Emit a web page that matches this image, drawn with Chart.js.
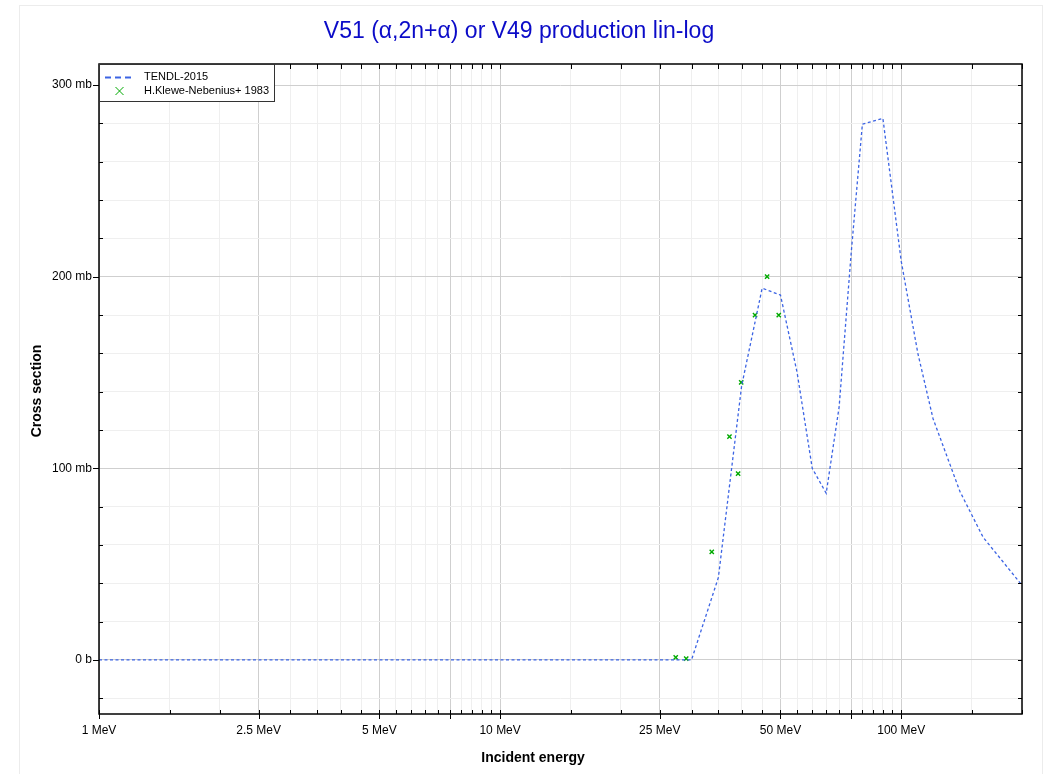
<!DOCTYPE html>
<html>
<head>
<meta charset="utf-8">
<title>V51 (α,2n+α) or V49 production lin-log</title>
<script src="https://cdn.jsdelivr.net/npm/chart.js@4.4.1/dist/chart.umd.min.js"></script>
<style>
  html, body { margin: 0; padding: 0; background: #fff; }
  canvas { display: block; }
</style>
</head>
<body>
<canvas id="chart" width="1053" height="774"></canvas>
<script>
/* ----------------------------------------------------------
   Data (energy in MeV, xs in mb)
   ---------------------------------------------------------- */
const tendlEnergy = [1, 10, 20, 28.5, 30, 35, 40, 45, 50, 55, 60, 65, 70, 75, 80, 90, 100, 110, 120, 140, 160, 200];
const tendlXs     = [0, 0, 0, 0, 0, 43, 143, 194, 190.4, 150, 100, 87, 132, 212, 279.6, 282.6, 208, 160, 126, 88, 64, 39];

const exfEnergy = [27.4, 29.1, 33.7, 37.3, 39.2, 39.9, 43.2, 46.3, 49.5];
const exfXs     = [1.4, 0.7, 56.4, 116.5, 97.2, 144.9, 179.9, 200.0, 179.9];

const xTickValues = [1, 1.5, 2, 2.5, 3, 3.5, 4, 4.5, 5, 5.5, 6, 6.5, 7, 7.5, 8, 8.5, 9, 9.5, 10,
                     15, 20, 25, 30, 35, 40, 45, 50, 55, 60, 65, 70, 75, 80, 85, 90, 95, 100, 150, 200];
const xMajorValues = [1, 2.5, 5, 7.5, 10, 25, 50, 75, 100];
const xLabelValues = [1, 2.5, 5, 10, 25, 50, 100];
const xLabelText   = ['1 MeV', '2.5 MeV', '5 MeV', '10 MeV', '25 MeV', '50 MeV', '100 MeV'];

const yTickValues  = [-20, 0, 20, 40, 60, 80, 100, 120, 140, 160, 180, 200, 220, 240, 260, 280, 300];
const yMajorValues = [0, 100, 200, 300];
const yLabelText   = ['0 b', '100 mb', '200 mb', '300 mb'];

const TITLE    = 'V51 (α,2n+α) or V49 production lin-log';
const X_TITLE  = 'Incident energy';
const Y_TITLE  = 'Cross section';
const LEG_LINE = 'TENDL-2015';
const LEG_EXF  = 'H.Klewe-Nebenius+ 1983';

const LINE_COLOR  = 'rgb(60,100,228)';
const CROSS_COLOR = 'rgb(0,170,0)';
const FONT = '"Liberation Sans", Arial, Helvetica, sans-serif';

/* ----------------------------------------------------------
   Frame, ticks, titles and legend
   ---------------------------------------------------------- */
const framePlugin = {
  id: 'frame',
  beforeDraw(chart) {
    const c = chart.ctx;
    c.save();
    c.fillStyle = '#fff';
    c.fillRect(0, 0, chart.width, chart.height);
    c.strokeStyle = '#ececec';
    c.lineWidth = 1;
    c.strokeRect(19.5, 5.5, 1023, 780);
    c.restore();
  },
  afterDatasetsDraw(chart) {
    const c = chart.ctx;
    const a = chart.chartArea;
    const xs = chart.scales.x, ys = chart.scales.y;
    c.save();
    c.strokeStyle = '#000';
    c.lineWidth = 1;
    c.beginPath();
    xTickValues.forEach(v => {
      const px = Math.round(xs.getPixelForValue(v)) + 0.5;
      const major = xMajorValues.includes(v);
      c.moveTo(px, a.bottom - 4); c.lineTo(px, major ? a.bottom + 5 : a.bottom);
      c.moveTo(px, a.top); c.lineTo(px, a.top + 5);
    });
    yTickValues.forEach(v => {
      const py = Math.round(ys.getPixelForValue(v)) + 0.5;
      const major = yMajorValues.includes(v);
      if (major) { c.moveTo(a.left - 6, py); c.lineTo(a.left, py); }
      else       { c.moveTo(a.left, py); c.lineTo(a.left + 4, py); }
      c.moveTo(a.right - 4, py); c.lineTo(a.right, py);
    });
    c.stroke();
    c.lineWidth = 1.5;
    c.strokeRect(a.left, a.top, a.right - a.left, a.bottom - a.top);
    c.restore();
  },
  afterDraw(chart) {
    const c = chart.ctx;
    const a = chart.chartArea;
    c.save();
    // title
    c.fillStyle = '#0b0bc8';
    c.font = '23px ' + FONT;
    c.textAlign = 'center';
    c.textBaseline = 'alphabetic';
    c.fillText(TITLE, 519, 38);
    // axis titles
    c.fillStyle = '#000';
    c.font = 'bold 14px ' + FONT;
    c.textBaseline = 'middle';
    c.fillText(X_TITLE, 533, 758);
    c.translate(37, 391);
    c.rotate(-Math.PI / 2);
    c.fillText(Y_TITLE, 0, 0);
    c.restore();

    // legend box
    c.save();
    const lx = a.left, ly = a.top, lw = 175, lh = 37;
    c.fillStyle = '#fff';
    c.fillRect(lx, ly, lw, lh);
    c.strokeStyle = '#333';
    c.lineWidth = 1;
    c.strokeRect(lx + 0.5, ly + 0.5, lw, lh);
    c.strokeStyle = LINE_COLOR;
    c.lineWidth = 2;
    c.setLineDash([6, 4]);
    c.beginPath();
    c.moveTo(lx + 6, ly + 13.5); c.lineTo(lx + 32, ly + 13.5);
    c.stroke();
    c.setLineDash([]);
    c.strokeStyle = CROSS_COLOR;
    c.lineWidth = 1;
    const cx = lx + 20.5, cy = ly + 27;
    c.beginPath();
    c.moveTo(cx - 4, cy - 4); c.lineTo(cx + 4, cy + 4);
    c.moveTo(cx - 4, cy + 4); c.lineTo(cx + 4, cy - 4);
    c.stroke();
    c.fillStyle = '#000';
    c.font = '11px ' + FONT;
    c.textAlign = 'left';
    c.textBaseline = 'middle';
    c.fillText(LEG_LINE, lx + 45, ly + 13);
    c.fillText(LEG_EXF, lx + 45, ly + 27);
    c.restore();
  }
};

/* ----------------------------------------------------------
   Chart
   ---------------------------------------------------------- */
new Chart(document.getElementById('chart'), {
  type: 'line',
  data: {
    datasets: [
      {
        label: LEG_LINE,
        data: tendlEnergy.map((e, i) => ({ x: e, y: tendlXs[i] })),
        borderColor: LINE_COLOR,
        borderWidth: 1.3,
        borderDash: [3, 2.5],
        pointRadius: 0,
        tension: 0,
        fill: false,
      },
      {
        type: 'scatter',
        label: LEG_EXF,
        data: exfEnergy.map((e, i) => ({ x: e, y: exfXs[i] })),
        pointStyle: 'crossRot',
        pointRadius: 3,
        borderColor: CROSS_COLOR,
        backgroundColor: CROSS_COLOR,
        borderWidth: 1.4,
      },
    ],
  },
  options: {
    responsive: false,
    animation: false,
    layout: { padding: { left: 0, top: 64, right: 31, bottom: 0 } },
    plugins: {
      legend:  { display: false },
      title:   { display: false },
      tooltip: { enabled: false },
    },
    scales: {
      x: {
        type: 'logarithmic',
        min: 1,
        max: 200,
        afterBuildTicks: s => { s.ticks = xTickValues.map(v => ({ value: v })); },
        afterFit: s => { s.height = 60; },
        ticks: {
          autoSkip: false,
          maxRotation: 0,
          padding: 9,
          color: '#000',
          font: { family: FONT, size: 12 },
          callback: v => {
            const i = xLabelValues.indexOf(v);
            return i >= 0 ? xLabelText[i] : '';
          },
        },
        grid: {
          drawTicks: false,
          color: ctx => (ctx.tick && xMajorValues.includes(ctx.tick.value)) ? '#cfcfcf' : '#efefef',
        },
        border: { display: false },
      },
      y: {
        type: 'linear',
        min: -28.2,
        max: 311,
        afterBuildTicks: s => { s.ticks = yTickValues.map(v => ({ value: v })); },
        afterFit: s => { s.width = 99; },
        ticks: {
          autoSkip: false,
          padding: 7,
          color: '#000',
          font: { family: FONT, size: 12 },
          callback: v => {
            const i = yMajorValues.indexOf(v);
            return i >= 0 ? yLabelText[i] : '';
          },
        },
        grid: {
          drawTicks: false,
          color: ctx => (ctx.tick && yMajorValues.includes(ctx.tick.value)) ? '#cfcfcf' : '#efefef',
        },
        border: { display: false },
      },
    },
  },
  plugins: [framePlugin],
});
</script>
</body>
</html>
